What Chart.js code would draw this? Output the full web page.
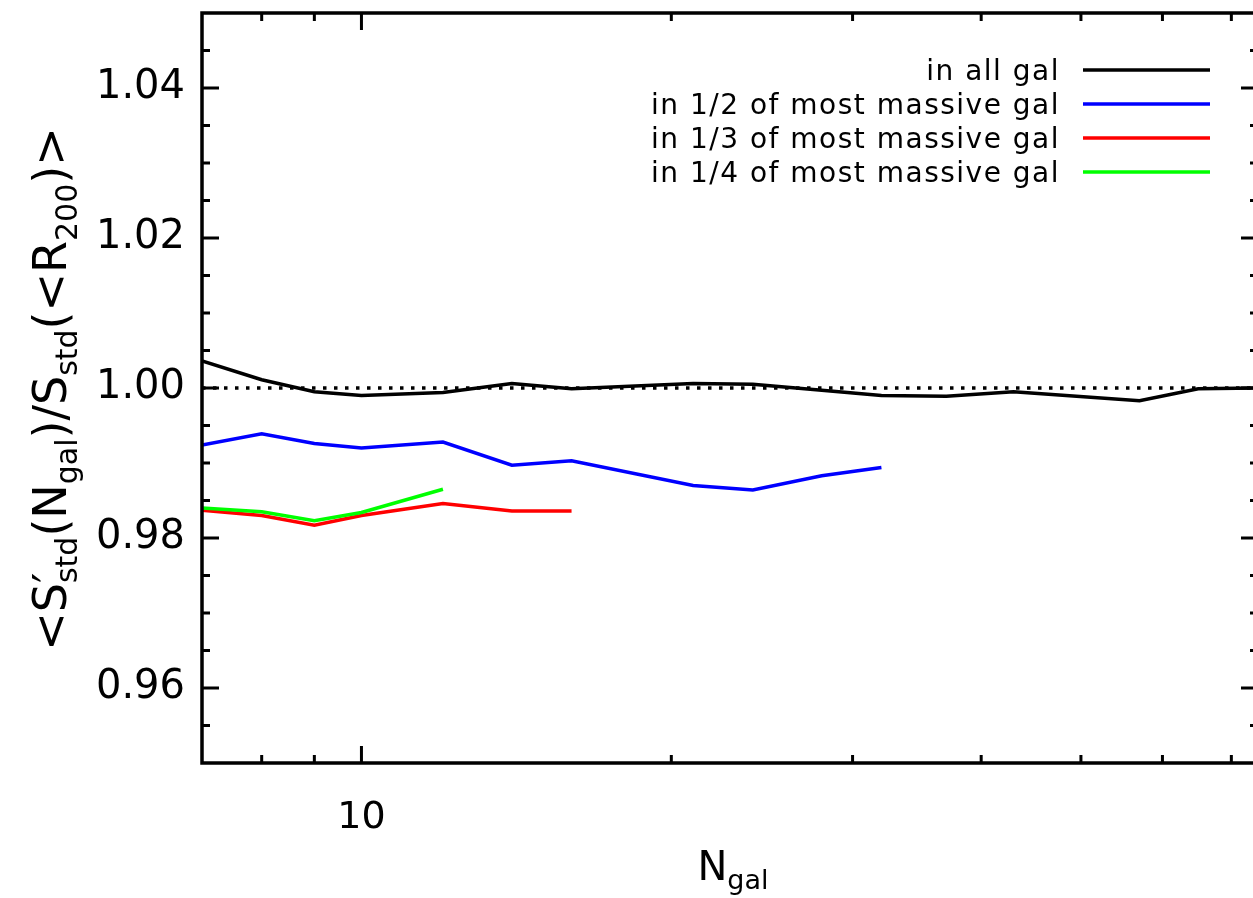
<!DOCTYPE html>
<html>
<head>
<meta charset="utf-8">
<script src="https://cdn.jsdelivr.net/npm/chart.js@4.4.1/dist/chart.umd.min.js"></script>
<style>
  html, body { margin: 0; padding: 0; background: #fff; overflow: hidden; }
  canvas { display: block; }
</style>
</head>
<body>
<canvas id="c" width="1262" height="898"></canvas>
<script>
// Group richness and mean ratio <S'std(Ngal)>/Sstd(<R200)> for each galaxy selection
const nGalAll = [7, 8, 9, 10, 12, 14, 16, 21, 24, 28, 32, 37, 43, 57, 65, 74];
const ratioAll = [1.0036, 1.0011, 0.9995, 0.9990, 0.9994, 1.0006, 0.9999, 1.0006, 1.0005, 0.9997, 0.9990, 0.9989, 0.9995, 0.9983, 0.9999, 1.0000];

const nGalHalf = [7, 8, 9, 10, 12, 14, 16, 21, 24, 28, 32];
const ratioHalf = [0.9924, 0.9939, 0.9926, 0.9920, 0.9928, 0.9897, 0.9903, 0.9870, 0.9864, 0.9883, 0.9894];

const nGalThird = [7, 8, 9, 10, 12, 14, 16];
const ratioThird = [0.9837, 0.9830, 0.9817, 0.9830, 0.9846, 0.9836, 0.9836];

const nGalQuarter = [7, 8, 9, 10, 12];
const ratioQuarter = [0.9840, 0.9835, 0.9823, 0.9834, 0.9865];

const seriesLabels = [
  'in all gal',
  'in 1/2 of most massive gal',
  'in 1/3 of most massive gal',
  'in 1/4 of most massive gal'
];
const seriesColors = ['#000000', '#0000ff', '#ff0000', '#00ff00'];

// Axis ranges and tick positions
const xRange = [7, 74.3];
const yRange = [0.95, 1.05];
const xTickValues = [8, 9, 10, 20, 30, 40, 50, 60, 70];
const xTickLabels = { 10: '10' };
const yStep = 0.005;
const unityLevel = 1.0;

const FONT = '"DejaVu Sans", "Liberation Sans", sans-serif';

function pairs(xs, ys) {
  return xs.map((x, i) => ({ x: x, y: ys[i] }));
}

const curves = [
  [nGalAll, ratioAll],
  [nGalHalf, ratioHalf],
  [nGalThird, ratioThird],
  [nGalQuarter, ratioQuarter]
];

const datasets = curves.map((c, i) => ({
  label: seriesLabels[i],
  data: pairs(c[0], c[1]),
  borderColor: seriesColors[i],
  borderWidth: 3.5,
  pointRadius: 0,
  fill: false,
  tension: 0
})).reverse();

// dotted reference at unity
datasets.push({
  label: '',
  data: pairs(xRange, [unityLevel, unityLevel]),
  borderColor: '#000000',
  borderWidth: 3.5,
  borderDash: [3.5, 7.5],
  borderCapStyle: 'butt',
  pointRadius: 0,
  fill: false
});

// draw a run of text pieces, some as subscripts
function drawRich(ctx, segs, cx, baseY, mainSize, subSize, subShift) {
  let total = 0;
  const widths = segs.map(s => {
    ctx.font = (s.sub ? subSize : mainSize) + 'px ' + FONT;
    const w = ctx.measureText(s.t).width;
    if (!s.stack) total += w;
    return w;
  });
  let x = cx - total / 2;
  ctx.textAlign = 'left';
  ctx.textBaseline = 'alphabetic';
  segs.forEach((s, i) => {
    ctx.font = (s.sub ? subSize : mainSize) + 'px ' + FONT;
    ctx.fillText(s.t, x, baseY + (s.sub ? subShift : 0));
    if (!s.stack) x += widths[i];
  });
}

const framePlugin = {
  id: 'frameTicks',
  afterDatasetsDraw(chart) {
    const ctx = chart.ctx;
    const a = chart.chartArea;
    const xs = chart.scales.x;
    const ys = chart.scales.y;
    ctx.save();
    ctx.strokeStyle = '#000';
    ctx.lineWidth = 3.5;
    ctx.lineCap = 'butt';
    ctx.strokeRect(a.left, a.top, a.right - a.left, a.bottom - a.top);

    ctx.lineWidth = 3;
    ctx.beginPath();
    ys.ticks.forEach(t => {
      const p = ys.getPixelForValue(t.value);
      if (p <= a.top + 1 || p >= a.bottom - 1) return;
      const len = t.label ? 17 : 8;
      ctx.moveTo(a.left, p); ctx.lineTo(a.left + len, p);
      ctx.moveTo(a.right, p); ctx.lineTo(a.right - len, p);
    });
    xs.ticks.forEach(t => {
      const p = xs.getPixelForValue(t.value);
      if (p <= a.left + 1 || p >= a.right - 1) return;
      const len = t.label ? 17 : 8;
      ctx.moveTo(p, a.bottom); ctx.lineTo(p, a.bottom - len);
      ctx.moveTo(p, a.top); ctx.lineTo(p, a.top + len);
    });
    ctx.stroke();
    ctx.restore();
  },
  afterDraw(chart) {
    const ctx = chart.ctx;
    ctx.save();
    ctx.fillStyle = '#000';

    // legend: text right-aligned, sample line to its right
    ctx.font = '28px ' + FONT;
    ctx.letterSpacing = '1.5px';
    ctx.textAlign = 'right';
    ctx.textBaseline = 'alphabetic';
    seriesLabels.forEach((lab, i) => {
      const ly = 70 + i * 34;
      ctx.fillText(lab, 1060, ly + 10);
      ctx.strokeStyle = seriesColors[i];
      ctx.lineWidth = 3.5;
      ctx.beginPath();
      ctx.moveTo(1083, ly);
      ctx.lineTo(1210, ly);
      ctx.stroke();
    });
    ctx.letterSpacing = '0px';

    // x-axis title
    drawRich(ctx, [
      { t: 'N' },
      { t: 'gal', sub: true }
    ], 733, 880, 40, 27, 9);

    // y-axis title (rotated)
    ctx.save();
    ctx.translate(66, 389);
    ctx.rotate(-Math.PI / 2);
    drawRich(ctx, [
      { t: '<S' },
      { t: '\u2032', stack: true },
      { t: 'std', sub: true },
      { t: '(N' },
      { t: 'gal', sub: true },
      { t: ')/S' },
      { t: 'std', sub: true },
      { t: '(<R' },
      { t: '200', sub: true },
      { t: ')>' }
    ], 0, 0, 46, 30, 11);
    ctx.restore();

    ctx.restore();
  }
};

new Chart(document.getElementById('c'), {
  type: 'line',
  data: { datasets: datasets },
  options: {
    responsive: false,
    animation: false,
    devicePixelRatio: 1,
    layout: { padding: { top: 13, right: 4, left: 0, bottom: 0 } },
    plugins: {
      legend: { display: false },
      tooltip: { enabled: false }
    },
    scales: {
      x: {
        type: 'logarithmic',
        min: xRange[0],
        max: xRange[1],
        grid: { display: false, drawTicks: false },
        border: { display: false },
        afterBuildTicks: (s) => { s.ticks = xTickValues.map(v => ({ value: v })); },
        afterFit: (s) => { s.height = 135; s.paddingLeft = 0; s.paddingRight = 0; },
        ticks: {
          autoSkip: false,
          maxRotation: 0,
          padding: 32,
          color: '#000',
          font: { family: FONT, size: 38 },
          callback: (v) => xTickLabels[v] || ''
        }
      },
      y: {
        type: 'linear',
        min: yRange[0],
        max: yRange[1],
        grid: { display: false, drawTicks: false },
        border: { display: false },
        afterFit: (s) => { s.width = 202; s.paddingTop = 0; s.paddingBottom = 0; },
        ticks: {
          stepSize: yStep,
          autoSkip: false,
          padding: 17,
          color: '#000',
          font: { family: FONT, size: 40 },
          callback: (v) => {
            const k = Math.round(v * 1000);
            return k % 20 === 0 ? (k / 1000).toFixed(2) : '';
          }
        }
      }
    }
  },
  plugins: [framePlugin]
});
</script>
</body>
</html>
